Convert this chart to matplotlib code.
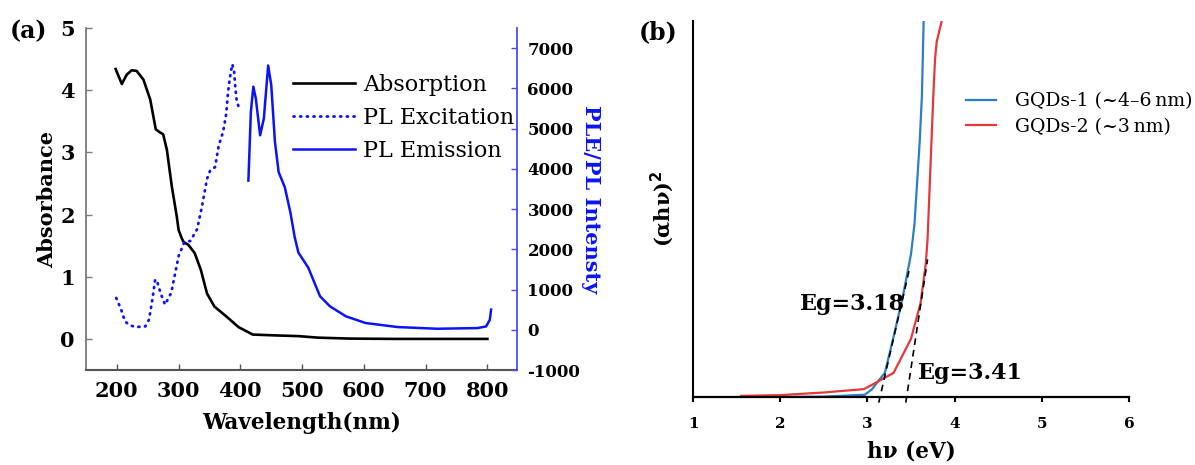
import matplotlib
matplotlib.use("Agg")
import matplotlib.pyplot as plt

plt.rcParams['font.family'] = ['DejaVu Serif']
plt.rcParams['font.weight'] = 'bold'
plt.rcParams['axes.unicode_minus'] = False

# ---------------- data panel (a) ----------------
abs_wl = [198, 208, 216, 224, 232, 243, 254, 263, 270, 275, 281, 289, 297, 300, 305, 308,
          316, 326, 336, 346, 358, 378, 397, 420, 461, 494, 526, 578, 650, 800]
abs_val = [4.34, 4.10, 4.25, 4.32, 4.31, 4.17, 3.85, 3.37, 3.32, 3.29, 3.04, 2.45, 1.97, 1.75,
           1.62, 1.56, 1.51, 1.38, 1.11, 0.73, 0.52, 0.355, 0.19, 0.07, 0.055, 0.045, 0.02,
           0.005, 0.0, 0.0]

ple_wl = [199, 207, 213, 220, 230, 246, 252, 258, 262, 265, 271, 278, 288, 300, 309, 319,
          330, 338, 346, 351, 359, 365, 372, 377, 380, 382.5, 384.5, 387, 390, 392, 394, 398]
ple_val = [790, 500, 210, 120, 67, 83, 250, 800, 1250, 1210, 900, 625, 917, 1833, 2167, 2208,
           2500, 3083, 3750, 3958, 4042, 4583, 4917, 5358, 5900, 6200, 6400, 6600, 6400, 5983,
           5700, 5500]

pl_wl = [413, 417, 421, 425, 432, 438, 445, 450, 456, 462, 472, 481, 488, 494, 503, 510, 520,
         529, 545, 571, 603, 655, 719, 784, 798, 804, 806]
pl_val = [3708, 5417, 6042, 5750, 4833, 5250, 6567, 6083, 4667, 3917, 3542, 2917, 2300, 1917,
          1708, 1542, 1167, 833, 583, 333, 167, 67, 25, 42, 83, 250, 500]

xticks_a = [200, 300, 400, 500, 600, 700, 800]
yticks_a = [0, 1, 2, 3, 4, 5]
yticks_a2 = [-1000, 0, 1000, 2000, 3000, 4000, 5000, 6000, 7000]
labels_a = ['Absorption', 'PL Excitation', 'PL Emission']

# ---------------- data panel (b) ----------------
gq1_x = [1.9, 2.5, 2.97, 3.05, 3.12, 3.20, 3.30, 3.40, 3.50, 3.54, 3.60, 3.625, 3.645, 3.655]
gq1_y = [0.0, 0.1, 0.6, 2.0, 4.1, 6.4, 16.0, 26.0, 38.0, 46.0, 68.0, 80.0, 100.0, 104.0]

gq2_x = [1.55, 2.0, 2.5, 2.96, 3.05, 3.15, 3.30, 3.50, 3.61, 3.67, 3.69, 3.756, 3.776,
         3.795, 3.852, 3.87]
gq2_y = [0.3, 0.5, 1.2, 2.1, 3.2, 4.5, 6.4, 15.5, 25.0, 35.6, 42.0, 80.3, 90.0, 94.5,
         100.0, 102.0]

tan1_x = [3.13, 3.48]
tan1_y = [-1.5, 33.8]
tan2_x = [3.44, 3.69]
tan2_y = [-1.5, 36.6]

xticks_b = [1, 2, 3, 4, 5, 6]
labels_b = ['GQDs-1 (~4–6\u2009nm)', 'GQDs-2 (~3\u2009nm)']

W, H = 1195, 465
fig = plt.figure(figsize=(W / 100, H / 100), dpi=100)


def rect(l, t, r, b):
    return [l / W, 1 - b / H, (r - l) / W, (b - t) / H]


# ================= panel (a) =================
ax1 = fig.add_axes(rect(86, 28, 517, 370))
ax2 = ax1.twinx()

blue = '#0a14f5'
dots = (0, (0.4, 2.0))
l1, = ax1.plot(abs_wl, abs_val, color='black', lw=1.9)
l2, = ax2.plot(ple_wl, ple_val, color=blue, lw=2.0, linestyle=dots, dash_capstyle='round')
l3, = ax2.plot(pl_wl, pl_val, color=blue, lw=1.8)

ax1.set_xlim(150, 848)
ax1.set_ylim(-0.5, 5)
ax2.set_ylim(-1000, 7500)
ax1.set_xticks(xticks_a)
ax1.set_yticks(yticks_a)
ax2.set_yticks(yticks_a2)

for ax in (ax1, ax2):
    ax.spines['top'].set_visible(False)
ax1.spines['right'].set_visible(False)
ax2.spines['left'].set_visible(False)
ax2.spines['bottom'].set_visible(False)
ax1.spines['left'].set_color('#7a7a7a')
ax1.spines['bottom'].set_color('#555555')
ax1.spines['left'].set_linewidth(1.3)
ax1.spines['bottom'].set_linewidth(1.5)
ax2.spines['right'].set_color('#4a4aff')
ax2.spines['right'].set_linewidth(1.3)

ax1.tick_params(axis='x', direction='in', length=4.5, width=1, color='#555555',
                labelsize=15, pad=8)
ax1.tick_params(axis='y', direction='in', length=4, width=1, color='#7a7a7a',
                labelsize=15, pad=8)
ax2.tick_params(axis='y', direction='in', length=4, width=1, color='#4a4aff',
                labelsize=12, pad=7.5)

ax1.set_xlabel('Wavelength(nm)', fontsize=15.5, fontweight='bold', labelpad=8)
ax1.set_ylabel('Absorbance', fontsize=15, fontweight='bold', labelpad=2)
ax2.set_ylabel('PLE/PL Intensty', fontsize=15, fontweight='bold', color='#0a14f5',
               rotation=270, labelpad=15)

leg1 = ax1.legend([l1, l2, l3], labels_a, loc='upper left',
                  bbox_to_anchor=(293 / W, 1 - 74 / H), bbox_transform=fig.transFigure,
                  frameon=False, borderpad=0, borderaxespad=0, handlelength=2.8,
                  handletextpad=0.35, labelspacing=0.5,
                  prop={'family': 'DejaVu Serif', 'weight': 'normal', 'size': 16})

fig.text(29 / W, 1 - 31 / H, '(a)', fontsize=17, fontweight='bold', ha='center', va='center')

# ================= panel (b) =================
axb = fig.add_axes(rect(693, 21, 1129, 397))
c1 = '#2a7fc6'
c2 = '#e3393d'
m1, = axb.plot(gq1_x, gq1_y, color=c1, lw=1.6)
m2, = axb.plot(gq2_x, gq2_y, color=c2, lw=1.6)
axb.plot(tan1_x, tan1_y, color='black', lw=1.2, linestyle=(0, (4, 3)), clip_on=False)
axb.plot(tan2_x, tan2_y, color='black', lw=1.2, linestyle=(0, (4, 3)), clip_on=False)

axb.set_xlim(1, 6)
axb.set_ylim(0, 100)
axb.set_xticks(xticks_b)
axb.set_yticks([])
axb.spines['top'].set_visible(False)
axb.spines['right'].set_visible(False)
axb.spines['left'].set_linewidth(1.5)
axb.spines['bottom'].set_linewidth(1.6)
axb.tick_params(axis='x', direction='out', length=3.5, width=1.5, labelsize=11, pad=11)
axb.set_xlabel('hν (eV)', fontsize=15.5, fontweight='bold', labelpad=7)
axb.set_ylabel('(αhν)$^2$', fontsize=15, fontweight='bold', labelpad=12)

axb.text(2.225, 24.8, 'Eg=3.18', fontsize=16, fontweight='bold', ha='left', va='center')
axb.text(3.58, 6.4, 'Eg=3.41', fontsize=16, fontweight='bold', ha='left', va='center')

leg2 = axb.legend([m1, m2], labels_b, loc='upper left',
                  bbox_to_anchor=(966 / W, 1 - 92.5 / H), bbox_transform=fig.transFigure,
                  frameon=False, borderpad=0, borderaxespad=0, handlelength=1.6,
                  handletextpad=1.0, labelspacing=0.4,
                  prop={'family': 'DejaVu Serif', 'weight': 'normal', 'size': 13.6})

fig.text(658 / W, 1 - 32 / H, '(b)', fontsize=17, fontweight='bold', ha='center', va='center')

fig.savefig('out.png', dpi=100)
